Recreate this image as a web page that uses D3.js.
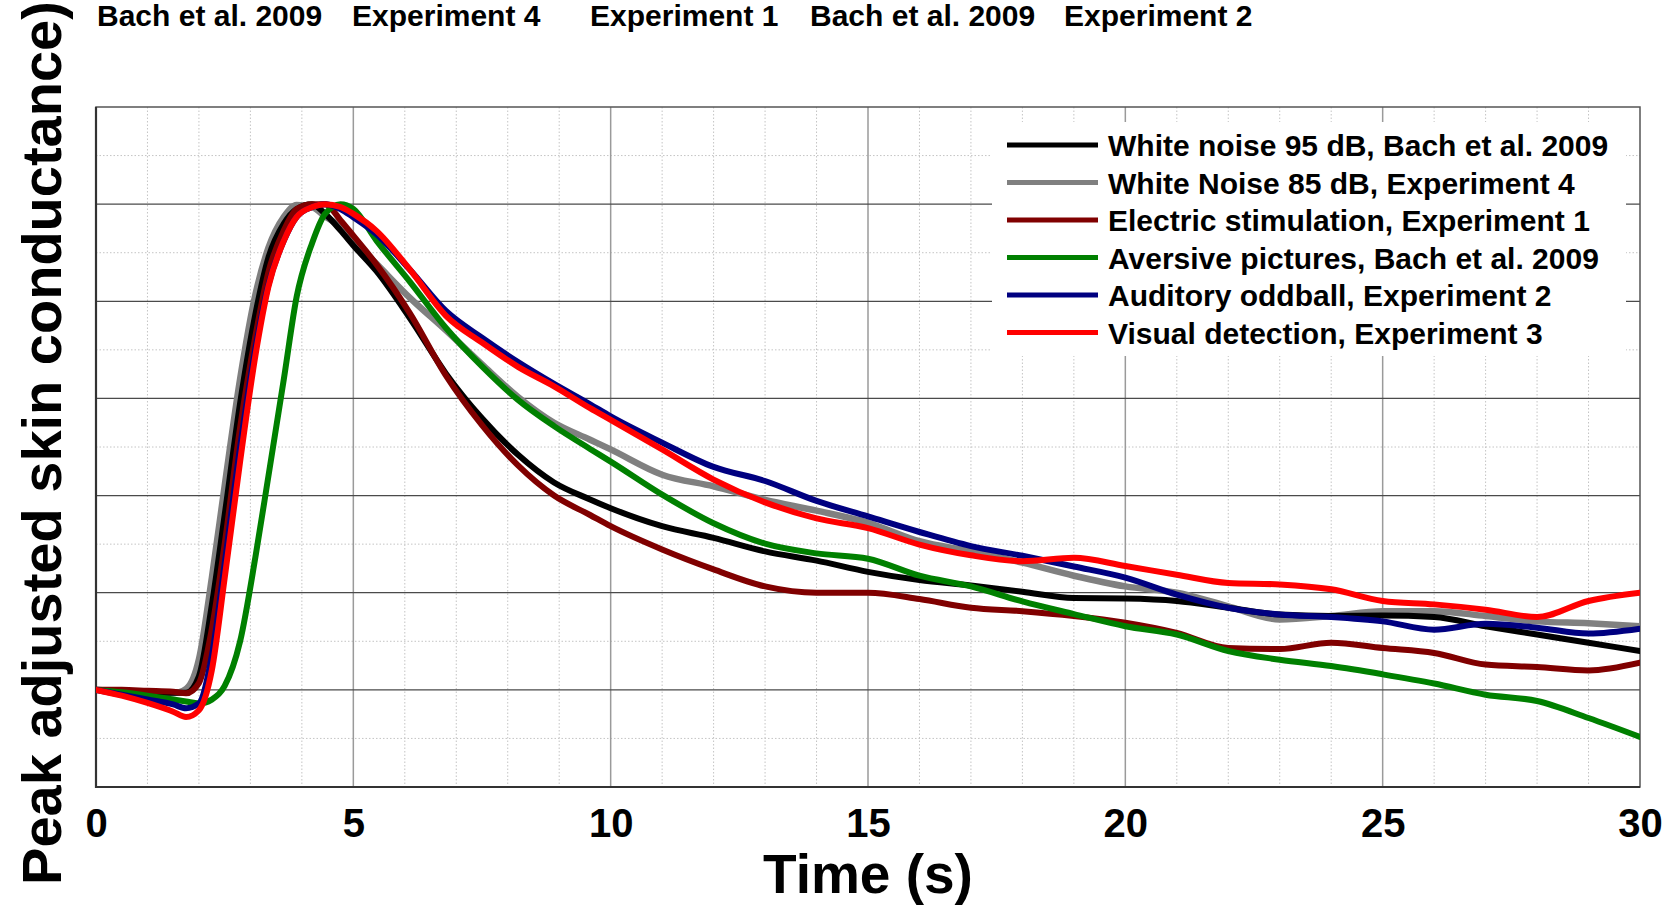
<!DOCTYPE html>
<html>
<head>
<meta charset="utf-8">
<script src="https://cdn.jsdelivr.net/npm/d3@7"></script>
<style>
  html, body { margin: 0; padding: 0; background: #fff; }
  svg { display: block; }
  text { font-family: "Liberation Sans", Arial, sans-serif; font-weight: bold; fill: #000; }
</style>
</head>
<body>
<svg id="chart" width="1673" height="905"></svg>
<script>
// ---------- data ----------
const time = [0, 0.5, 1, 1.5, 1.75, 2, 2.25, 2.5, 2.8, 3.1, 3.35, 3.65, 3.9, 4.2, 4.45, 4.75, 5, 5.45, 6.1, 6.8, 7.5, 8.2, 8.9, 9.6, 10,
              11, 12, 13, 14, 15, 16, 17, 18, 19, 20, 21, 22, 23, 24, 25, 26, 27, 28, 29, 30];

const whiteNoise95 = [0, -0.002, -0.004, -0.006, -0.006, 0.028, 0.174, 0.36, 0.59, 0.775, 0.89, 0.96, 0.99, 1.0, 0.98, 0.946, 0.915, 0.862, 0.765, 0.651, 0.559, 0.484, 0.427, 0.392, 0.374,
              0.337, 0.313, 0.285, 0.266, 0.243, 0.226, 0.215, 0.202, 0.189, 0.188, 0.183, 0.169, 0.155, 0.152, 0.153, 0.15, 0.131, 0.114, 0.097, 0.08];
const whiteNoise85 = [0, -0.003, -0.005, -0.007, 0.002, 0.063, 0.23, 0.42, 0.64, 0.815, 0.91, 0.974, 0.998, 0.994, 0.975, 0.953, 0.925, 0.877, 0.807, 0.74, 0.67, 0.603, 0.55, 0.515, 0.495,
              0.443, 0.419, 0.391, 0.369, 0.344, 0.306, 0.285, 0.262, 0.235, 0.213, 0.2, 0.172, 0.145, 0.152, 0.162, 0.162, 0.152, 0.141, 0.137, 0.131];
const electric = [0, 0, -0.002, -0.004, -0.007, 0.014, 0.125, 0.30, 0.54, 0.73, 0.86, 0.946, 0.99, 1.0, 1.0, 0.967, 0.935, 0.876, 0.775, 0.647, 0.545, 0.462, 0.40, 0.36, 0.337,
              0.289, 0.248, 0.213, 0.2, 0.2, 0.187, 0.169, 0.162, 0.152, 0.138, 0.117, 0.086, 0.084, 0.097, 0.086, 0.076, 0.052, 0.047, 0.04, 0.056];
const aversive = [0, -0.005, -0.012, -0.02, -0.024, -0.028, -0.02, 0.008, 0.10, 0.275, 0.44, 0.64, 0.81, 0.92, 0.98, 1.0, 0.99, 0.925, 0.84, 0.745, 0.666, 0.597, 0.543, 0.496, 0.47,
              0.402, 0.343, 0.301, 0.281, 0.27, 0.235, 0.213, 0.182, 0.156, 0.131, 0.114, 0.08, 0.062, 0.049, 0.032, 0.013, -0.01, -0.023, -0.058, -0.097];
const oddball = [0, -0.01, -0.02, -0.03, -0.038, -0.028, 0.07, 0.26, 0.50, 0.705, 0.834, 0.925, 0.974, 0.994, 1.0, 0.99, 0.973, 0.938, 0.865, 0.78, 0.725, 0.675, 0.63, 0.588, 0.563,
              0.509, 0.459, 0.43, 0.389, 0.357, 0.325, 0.296, 0.276, 0.254, 0.231, 0.196, 0.169, 0.155, 0.15, 0.141, 0.124, 0.136, 0.128, 0.116, 0.126];
const visual = [0, -0.012, -0.027, -0.045, -0.056, -0.042, 0.04, 0.23, 0.47, 0.69, 0.83, 0.925, 0.974, 0.994, 1.0, 0.994, 0.98, 0.945, 0.865, 0.77, 0.715, 0.665, 0.625, 0.58, 0.556,
              0.495, 0.433, 0.386, 0.353, 0.333, 0.299, 0.277, 0.265, 0.272, 0.255, 0.237, 0.22, 0.217, 0.207, 0.183, 0.176, 0.165, 0.15, 0.183, 0.2];

const seriesNames = ["White noise 95 dB, Bach et al. 2009", "White Noise 85 dB, Experiment 4", "Electric stimulation, Experiment 1",
                     "Aversive pictures, Bach et al. 2009", "Auditory oddball, Experiment 2", "Visual detection, Experiment 3"];
const seriesColors = ["#000000", "#808080", "#800000", "#008000", "#000080", "#ff0000"];
const seriesValues = [whiteNoise95, whiteNoise85, electric, aversive, oddball, visual];

const xTicks = [0, 5, 10, 15, 20, 25, 30];
const topLabels = ["Bach et al. 2009", "Experiment 4", "Experiment 1", "Bach et al. 2009", "Experiment 2"];
const xTitle = "Time (s)";
const yTitle = "Peak adjusted skin conductance)";

// ---------- layout ----------
const svg = d3.select("#chart");
const L = 96, R = 1640, T = 107, B = 787;
const x = d3.scaleLinear().domain([0, 30]).range([L, R]);
const y = d3.scaleLinear().domain([-0.2, 1.2]).range([B, T]);

svg.append("rect").attr("width", 1673).attr("height", 905).attr("fill", "#fff");

const grid = svg.append("g");
// minor grid
d3.range(1, 30).filter(d => d % 5 !== 0).forEach(t => {
  grid.append("line").attr("x1", x(t)).attr("x2", x(t)).attr("y1", T).attr("y2", B)
    .attr("stroke", "#c4c4c4").attr("stroke-width", 1).attr("stroke-dasharray", "1.5,2");
});
[-0.1, 0.1, 0.3, 0.5, 0.7, 0.9, 1.1].forEach(v => {
  grid.append("line").attr("x1", L).attr("x2", R).attr("y1", y(v)).attr("y2", y(v))
    .attr("stroke", "#c4c4c4").attr("stroke-width", 1).attr("stroke-dasharray", "1.5,2");
});
// major grid
[5, 10, 15, 20, 25].forEach(t => {
  grid.append("line").attr("x1", x(t)).attr("x2", x(t)).attr("y1", T).attr("y2", B)
    .attr("stroke", "#9a9a9a").attr("stroke-width", 1.5);
});
[0, 0.2, 0.4, 0.6, 0.8, 1.0].forEach(v => {
  grid.append("line").attr("x1", L).attr("x2", R).attr("y1", y(v)).attr("y2", y(v))
    .attr("stroke", "#4a4a4a").attr("stroke-width", 1.2);
});

// frame
svg.append("rect").attr("x", L).attr("y", T).attr("width", R - L).attr("height", B - T)
  .attr("fill", "none").attr("stroke", "#555").attr("stroke-width", 1.5);
svg.append("line").attr("x1", L).attr("x2", L).attr("y1", T).attr("y2", B + 1).attr("stroke", "#333").attr("stroke-width", 2.2);
svg.append("line").attr("x1", L - 1).attr("x2", R).attr("y1", B).attr("y2", B).attr("stroke", "#333").attr("stroke-width", 2.2);

// clip
svg.append("clipPath").attr("id", "plotclip").append("rect")
  .attr("x", L).attr("y", T).attr("width", R - L).attr("height", B - T);

const line = d3.line().x(d => x(d[0])).y(d => y(d[1])).curve(d3.curveMonotoneX);
const drawOrder = [1, 0, 2, 3, 4, 5];
const lines = svg.append("g").attr("clip-path", "url(#plotclip)");
drawOrder.forEach(i => {
  lines.append("path")
    .datum(time.map((t, k) => [t, seriesValues[i][k]]))
    .attr("d", line)
    .attr("fill", "none")
    .attr("stroke", seriesColors[i])
    .attr("stroke-width", i === 1 ? 6.5 : 6)
    .attr("stroke-linejoin", "round")
    .attr("stroke-linecap", "round");
});

// legend
const lg = svg.append("g");
lg.append("rect").attr("x", 992).attr("y", 122).attr("width", 634).attr("height", 234).attr("fill", "#fff");
seriesNames.forEach((name, i) => {
  const cy = 145 + i * 37.5;
  lg.append("line").attr("x1", 1007).attr("x2", 1098).attr("y1", cy).attr("y2", cy)
    .attr("stroke", seriesColors[i]).attr("stroke-width", 5);
  lg.append("text").attr("x", 1108).attr("y", cy + 11).attr("font-size", 30).text(name);
});

// x axis
const xAxis = svg.append("g").attr("transform", `translate(0,${B})`)
  .call(d3.axisBottom(x).tickValues(xTicks).tickSize(0).tickPadding(22).tickFormat(d3.format("d")));
xAxis.select(".domain").remove();
xAxis.selectAll("text").attr("font-size", 40).attr("font-family", "Liberation Sans, Arial, sans-serif")
  .attr("font-weight", "bold").attr("fill", "#000");

// titles
svg.append("text").attr("x", (L + R) / 2).attr("y", 893).attr("text-anchor", "middle")
  .attr("font-size", 55).text(xTitle);
svg.append("text").attr("transform", "translate(61,443) rotate(-90)").attr("text-anchor", "middle")
  .attr("font-size", 56).text(yTitle);

// top labels
const topX = [97, 352, 590, 810, 1064];
topLabels.forEach((t, i) => {
  svg.append("text").attr("x", topX[i]).attr("y", 26).attr("font-size", 30).text(t);
});
</script>
</body>
</html>
